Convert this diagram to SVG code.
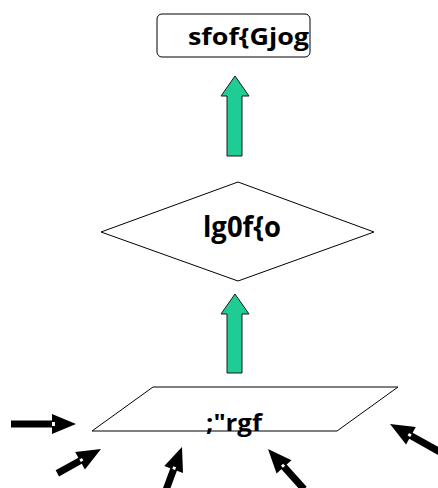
<svg xmlns="http://www.w3.org/2000/svg" width="438" height="488" viewBox="0 0 438 488">
<style>
.shape{fill:#fff;stroke:#000;stroke-width:1}
.lbl{font-family:"Open Sans","Liberation Sans",sans-serif;font-weight:bold;font-size:24px;fill:#000}
.garrow{fill:#20cc96;stroke:#1a1a1a;stroke-width:1}
.bk{fill:#000}
.notch{fill:#fff}
</style>
<g id="node-top">
<rect class="shape" x="157" y="14" width="153" height="43" rx="5"/>
<text class="lbl" x="188" y="45" textLength="121" lengthAdjust="spacingAndGlyphs">sfof{Gjog</text>
</g>
<g id="node-diamond">
<polygon class="shape" points="101,232 238,182 374,232 238,281"/>
<text class="lbl" x="203" y="237" style="font-size:29px" textLength="78" lengthAdjust="spacingAndGlyphs">lg0f{o</text>
</g>
<g id="node-para">
<polygon class="shape" points="153,387 398,387 337,431 92,431"/>
<text class="lbl" x="206" y="431" textLength="56" lengthAdjust="spacingAndGlyphs">;"rgf</text>
</g>
<g id="connectors">
<polygon class="garrow" points="235,76 249,96 242,96 242,156 227,156 227,96 221,96"/>
<polygon class="garrow" points="235,294 249,314 242,314 242,373 227,373 227,314 221,314"/>
<g transform="translate(76,424)">
<rect class="bk" x="-65" y="-3.5" width="42" height="7"/>
<polygon class="bk" points="-24,-10 0,0 -24,10"/>
<rect class="notch" x="-24" y="-2" width="3" height="4"/>
</g>
<g transform="translate(101,449) rotate(-29.2)">
<rect class="bk" x="-50" y="-3.5" width="27" height="7"/>
<polygon class="bk" points="-24,-10 0,0 -24,10"/>
<rect class="notch" x="-24" y="-1.5" width="3" height="3"/>
</g>
<g transform="translate(182,447) rotate(-69.6)">
<rect class="bk" x="-50" y="-3.5" width="27" height="7"/>
<polygon class="bk" points="-24,-10 0,0 -24,10"/>
<rect class="notch" x="-24" y="-1.5" width="3" height="3"/>
</g>
<g transform="translate(268,449) rotate(-131.9)">
<rect class="bk" x="-54" y="-3.5" width="31" height="7"/>
<polygon class="bk" points="-24,-10 0,0 -24,10"/>
<rect class="notch" x="-24" y="-1.5" width="3" height="3"/>
</g>
<g transform="translate(390,424) rotate(-150.75)">
<rect class="bk" x="-60" y="-3.5" width="37" height="7"/>
<polygon class="bk" points="-24,-10 0,0 -24,10"/>
<rect class="notch" x="-24" y="-1.5" width="3" height="3"/>
</g>
</g>
</svg>
